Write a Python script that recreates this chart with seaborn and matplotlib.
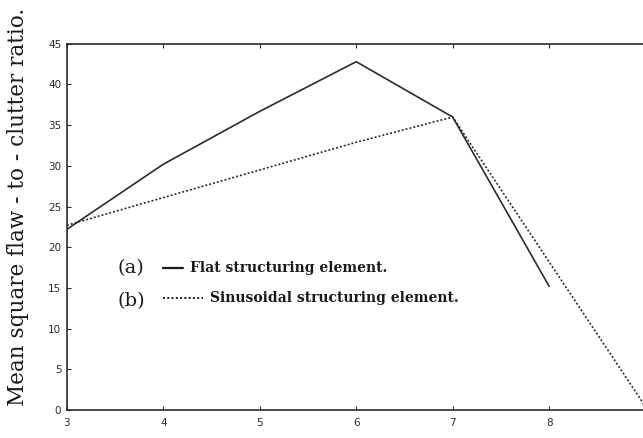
import matplotlib
matplotlib.use("Agg")
import matplotlib.pyplot as plt
import seaborn as sns
import pandas as pd

# datos
flat_x = [3, 4, 5, 6, 7, 8]
flat_y = [22.2, 30.2, 36.7, 42.8, 36.0, 15.2]
sin_x = [3, 4, 5, 6, 7, 9]
sin_y = [22.7, 26.1, 29.5, 32.9, 36.0, 0.4]
x_ticks = [3, 4, 5, 6, 7, 8]
y_ticks = [0, 5, 10, 15, 20, 25, 30, 35, 40, 45]

df_flat = pd.DataFrame({"x": flat_x, "y": flat_y})
df_sin = pd.DataFrame({"x": sin_x, "y": sin_y})

sns.set_style("ticks")
fig = plt.figure(figsize=(6.43, 4.38), dpi=100)
ax = fig.add_axes([0.104, 0.064, 0.900, 0.836])

sns.lineplot(data=df_flat, x="x", y="y", ax=ax, color="#2b2b2b", linewidth=1.2)
sns.lineplot(data=df_sin, x="x", y="y", ax=ax, color="#2b2b2b", linewidth=1.2,
             linestyle=(0, (1.2, 1.2)))

ax.set_xlim(3, 9)
ax.set_ylim(0, 45)
ax.set_xticks(x_ticks)
ax.set_yticks(y_ticks)
ax.tick_params(direction="in", length=3, width=0.8, labelsize=7.5, top=True,
               colors="#2b2b2b", pad=4)
ax.tick_params(axis="x", pad=6)
for s in ["left", "bottom", "top"]:
    ax.spines[s].set_linewidth(1.2)
    ax.spines[s].set_color("#2b2b2b")
ax.spines["right"].set_visible(False)
ax.set_xlabel("")
ax.set_ylabel("Mean square flaw - to - clutter ratio.", family="DejaVu Serif",
              fontsize=15.5, color="#1a1a1a")
ax.yaxis.set_label_coords(-0.066, 0.555)

# leyenda dibujada a mano
ax.text(0.087, 0.388, "(a)", transform=ax.transAxes, family="DejaVu Serif",
        fontsize=14, va="center", color="#1a1a1a")
ax.plot([0.166, 0.201], [0.388, 0.388], transform=ax.transAxes, color="#1a1a1a",
        linewidth=1.6)
ax.text(0.213, 0.388, "Flat structuring element.", transform=ax.transAxes,
        family="DejaVu Serif", fontsize=10, fontweight="bold", va="center",
        color="#1a1a1a")
ax.text(0.087, 0.298, "(b)", transform=ax.transAxes, family="DejaVu Serif",
        fontsize=14, va="center", color="#1a1a1a")
ax.plot([0.166, 0.236], [0.306, 0.306], transform=ax.transAxes, color="#1a1a1a",
        linewidth=1.4, linestyle=(0, (1, 1.2)))
ax.text(0.248, 0.306, "Sinusoidal structuring element.", transform=ax.transAxes,
        family="DejaVu Serif", fontsize=10, fontweight="bold", va="center",
        color="#1a1a1a")

fig.savefig("out.png", dpi=100)
